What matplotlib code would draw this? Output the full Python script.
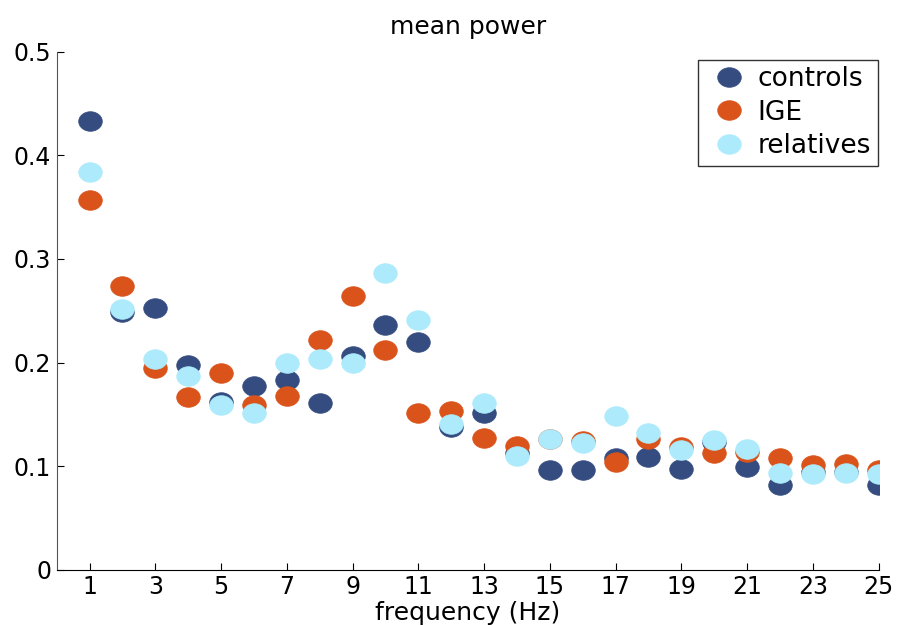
import numpy as np
import matplotlib.pyplot as plt
from matplotlib.path import Path

plt.rcParams['font.family'] = ['DejaVu Sans']

# frequency bins (Hz)
freq = list(range(1, 26))

# mean power per group
controls = [0.433, 0.249, 0.253, 0.198, 0.162, 0.177, 0.183, 0.161, 0.206, 0.236,
            0.220, 0.138, 0.151, 0.113, 0.096, 0.096, 0.108, 0.109, 0.097, 0.123,
            0.099, 0.082, 0.094, 0.094, 0.082]
ige = [0.357, 0.274, 0.195, 0.167, 0.190, 0.159, 0.168, 0.222, 0.264, 0.212,
       0.151, 0.153, 0.127, 0.119, 0.126, 0.124, 0.104, 0.126, 0.118, 0.113,
       0.114, 0.108, 0.101, 0.102, 0.096]
relatives = [0.384, 0.252, 0.203, 0.187, 0.159, 0.151, 0.200, 0.203, 0.200, 0.286,
             0.241, 0.141, 0.161, 0.110, 0.126, 0.122, 0.148, 0.132, 0.116, 0.125,
             0.117, 0.093, 0.092, 0.093, 0.092]

groups = ["controls", "IGE", "relatives"]
colors = ['#344C80', '#D9531A', '#ADEBFC']

# slightly flattened dot, like the original
t = np.linspace(0, 2 * np.pi, 60)
ellipse = Path(np.column_stack([np.cos(t), 0.83 * np.sin(t)]), closed=True)

fig = plt.figure(figsize=(8.97, 6.25), dpi=100)
ax = fig.add_axes([0.0632, 0.0885, 0.9163, 0.8285])

for vals, name, c in zip([controls, ige, relatives], groups, colors):
    ax.plot(freq, vals, linestyle='none', marker=ellipse, markersize=17,
            markerfacecolor=c, markeredgecolor=c, markeredgewidth=0.5, label=name)

ax.set_xlim(0, 25)
ax.set_ylim(0, 0.5)
ax.set_xticks(range(1, 26, 2))
ax.set_yticks([0, 0.1, 0.2, 0.3, 0.4, 0.5])
ax.set_yticklabels(['0', '0.1', '0.2', '0.3', '0.4', '0.5'])
ax.tick_params(direction='in', length=5, labelsize=17, width=0.8, pad=4)
ax.spines['top'].set_visible(False)
ax.spines['right'].set_visible(False)
ax.spines['left'].set_color('#555555')

ax.set_title("mean power", fontsize=18, pad=13)
ax.set_xlabel("frequency (Hz)", fontsize=18, labelpad=1)

leg = ax.legend(loc='upper right', bbox_to_anchor=(0.999, 0.985), borderaxespad=0,
                fontsize=19, frameon=True, fancybox=False, edgecolor='black',
                handletextpad=0.2, borderpad=0.25, labelspacing=0.28, handlelength=1.8)
leg.get_frame().set_linewidth(1.0)

fig.savefig("out.png", dpi=100)
